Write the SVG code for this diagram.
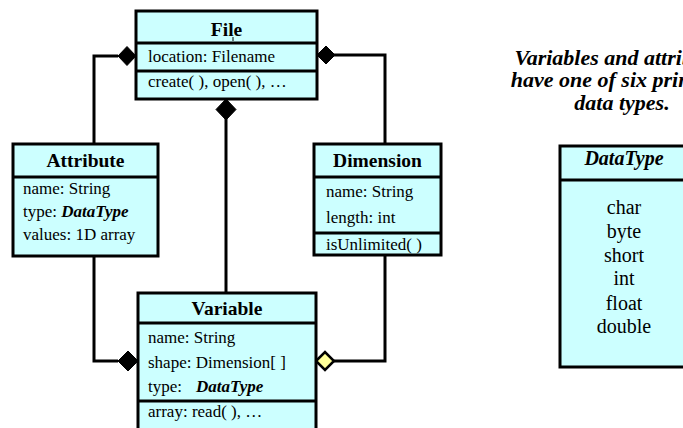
<svg xmlns="http://www.w3.org/2000/svg" width="683" height="428" viewBox="0 0 683 428">
<style>
.box{fill:#CCFFFF;stroke:#000;stroke-width:3}
.sep{stroke:#000;stroke-width:3}
.conn{fill:none;stroke:#000;stroke-width:3}
.t{font-family:"Liberation Serif","Times New Roman",serif;font-size:17px;fill:#000}
.h{font-family:"Liberation Serif","Times New Roman",serif;font-size:19.5px;font-weight:bold;fill:#000;text-anchor:middle}
.bi{font-weight:bold;font-style:italic}
.d{font-family:"Liberation Serif","Times New Roman",serif;font-size:20px;fill:#000;text-anchor:middle}
.note{font-family:"Liberation Serif","Times New Roman",serif;font-size:22px;font-weight:bold;font-style:italic;fill:#000;text-anchor:middle}
.fd{fill:#000;stroke:#000;stroke-width:1}
.hd{fill:#FFFF99;stroke:#000;stroke-width:2.5}
</style>
<rect width="683" height="428" fill="#fff"/>
<g id="connectors">
<polyline class="conn" points="118,56 94,56 94,144"/>
<path class="fd" d="M136,56 L127,46.5 L118,56 L127,65.5 Z"/>
<polyline class="conn" points="334,55 385,55 385,144"/>
<path class="fd" d="M317,55 L326,46 L335,55 L326,64 Z"/>
<line class="conn" x1="226" y1="118" x2="226" y2="293"/>
<path class="fd" d="M226,99 L236,109.5 L226,120 L216,109.5 Z"/>
<polyline class="conn" points="94,256 94,361 118,361"/>
<path class="fd" d="M138,361 L128,351 L118,361 L128,371 Z"/>
<polyline class="conn" points="334,361 385,361 385,255"/>
<path class="hd" d="M316,361 L325,352 L334,361 L325,370 Z"/>
</g>
<g id="File">
<rect class="box" x="136" y="11" width="181" height="88"/>
<line class="sep" x1="136" y1="43" x2="317" y2="43"/>
<line class="sep" x1="136" y1="71" x2="317" y2="71"/>
<text class="h" x="226.5" y="36">File</text>
<line x1="233" y1="37" x2="233" y2="41" stroke="#000" stroke-width="1"/>
<text class="t" x="148" y="62">location: Filename</text>
<text class="t" x="148" y="87">create( ), open( ), …</text>
</g>
<g id="Attribute">
<rect class="box" x="13" y="144" width="145" height="112"/>
<line class="sep" x1="13" y1="177" x2="158" y2="177"/>
<text class="h" x="85.5" y="167">Attribute</text>
<text class="t" x="23" y="194">name: String</text>
<text class="t" x="23" y="217">type: <tspan class="bi">DataType</tspan></text>
<text class="t" x="23" y="240">values: 1D array</text>
</g>
<g id="Dimension">
<rect class="box" x="314" y="144" width="127" height="111"/>
<line class="sep" x1="314" y1="177" x2="441" y2="177"/>
<line class="sep" x1="314" y1="233" x2="441" y2="233"/>
<text class="h" x="377.5" y="167">Dimension</text>
<text class="t" x="326" y="197">name: String</text>
<text class="t" x="326" y="223">length: int</text>
<text class="t" x="326" y="250">isUnlimited( )</text>
</g>
<g id="Variable">
<rect class="box" x="138" y="293" width="178" height="150"/>
<line class="sep" x1="138" y1="323" x2="316" y2="323"/>
<line class="sep" x1="138" y1="401" x2="316" y2="401"/>
<text class="h" x="227" y="315">Variable</text>
<text class="t" x="148" y="343">name: String</text>
<text class="t" x="148" y="368">shape: Dimension[ ]</text>
<text class="t" x="148" y="392">type:<tspan class="bi" x="196">DataType</tspan></text>
<text class="t" x="148" y="417">array: read( ), …</text>
</g>
<g id="note">
<text class="note" x="622" y="65">Variables and attributes</text>
<text class="note" x="622" y="87">have one of six primitive</text>
<text class="note" x="622" y="110">data types.</text>
</g>
<g id="DataType">
<rect class="box" x="560" y="146" width="128" height="221"/>
<line class="sep" x1="560" y1="180" x2="688" y2="180"/>
<text class="d bi" x="624" y="165">DataType</text>
<text class="d" x="624" y="214">char</text>
<text class="d" x="624" y="238">byte</text>
<text class="d" x="624" y="262">short</text>
<text class="d" x="624" y="285">int</text>
<text class="d" x="624" y="310">float</text>
<text class="d" x="624" y="333">double</text>
</g>
</svg>
